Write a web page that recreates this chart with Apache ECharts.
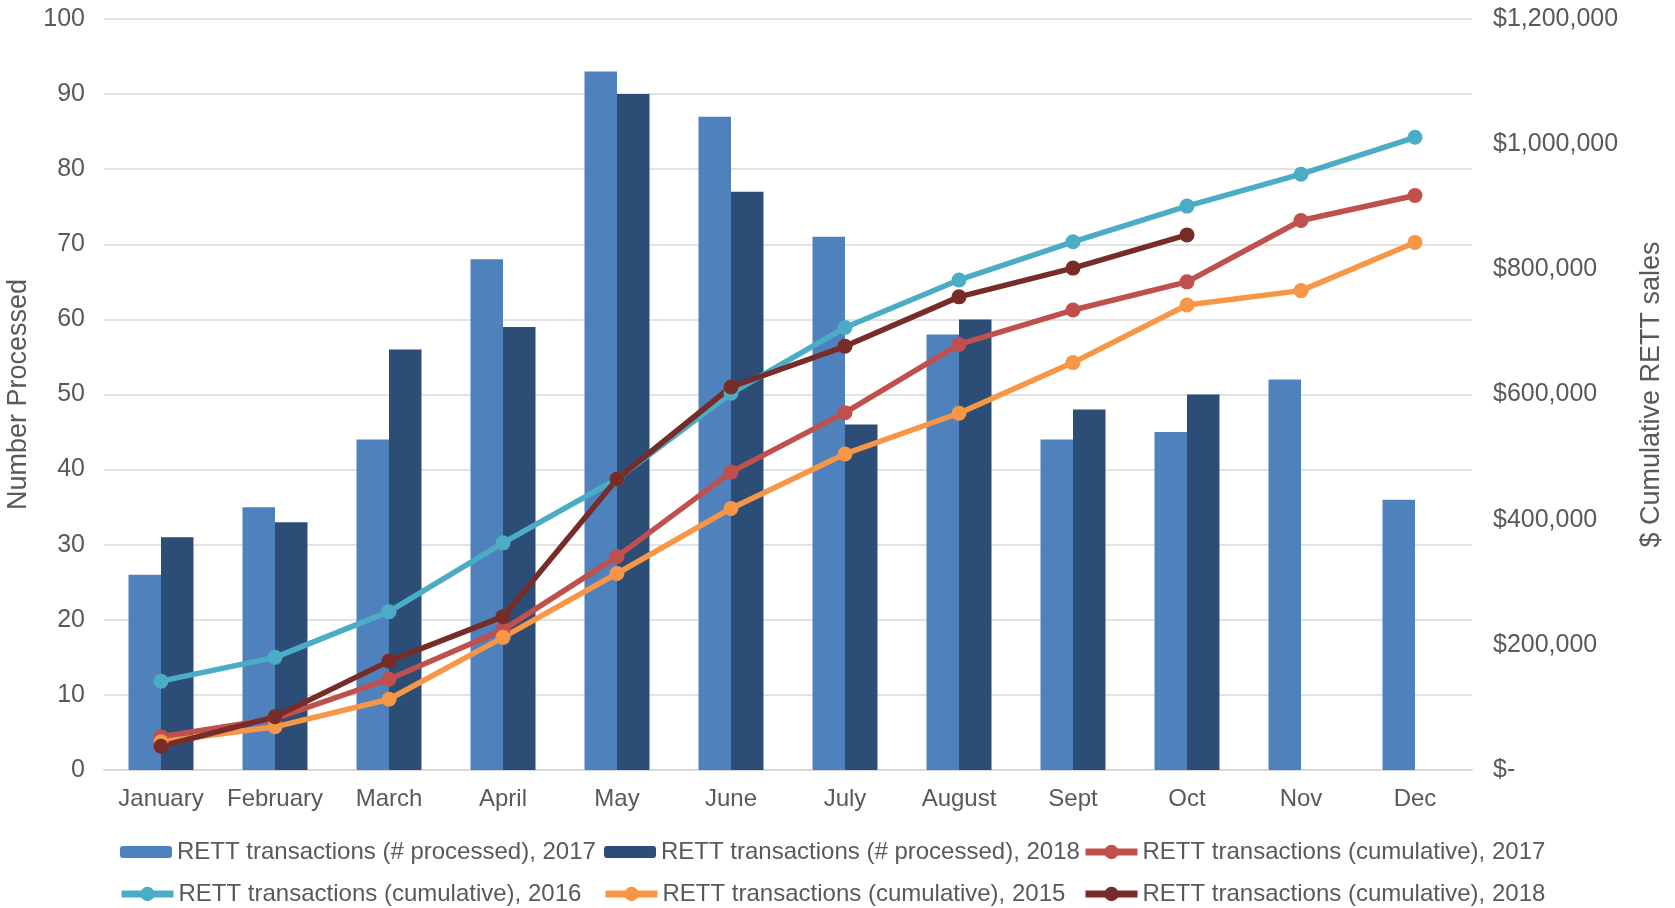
<!DOCTYPE html>
<html>
<head>
<meta charset="utf-8">
<title>RETT transactions</title>
<script src="https://cdn.jsdelivr.net/npm/echarts@6/dist/echarts.min.js"></script>
<style>
  html, body { margin: 0; padding: 0; background: #ffffff; }
  #chart { width: 1675px; height: 908px; }
</style>
</head>
<body>
<div id="chart"></div>
<script>
// Month categories on the shared x axis
const months = ['January', 'February', 'March', 'April', 'May', 'June', 'July', 'August', 'Sept', 'Oct', 'Nov', 'Dec'];

// Number of RETT transactions processed per month (left axis)
const processed2017 = [26, 35, 44, 68, 93, 87, 71, 58, 44, 45, 52, 36];
const processed2018 = [31, 33, 56, 59, 90, 77, 46, 60, 48, 50, null, null];

// Cumulative RETT sales in dollars (right axis)
const cumulative2017 = [53000, 82000, 145000, 224000, 341000, 476000, 571000, 680000, 735000, 780000, 878000, 918000];
const cumulative2016 = [142000, 180000, 253000, 363000, 465000, 602000, 707000, 783000, 844000, 901000, 952000, 1011000];
const cumulative2015 = [45000, 69000, 113000, 212000, 314000, 418000, 505000, 570000, 651000, 743000, 766000, 843000];
const cumulative2018 = [38000, 85000, 174000, 245000, 465000, 612000, 677000, 756000, 802000, 855000, null, null];

// Series names, in legend order
const names = [
  'RETT transactions (# processed), 2017',
  'RETT transactions (# processed), 2018',
  'RETT transactions (cumulative), 2017',
  'RETT transactions (cumulative), 2016',
  'RETT transactions (cumulative), 2015',
  'RETT transactions (cumulative), 2018'
];

const FONT = '"Liberation Sans", Arial, sans-serif';
const TEXT = '#595959';
const GRID = '#d9d9d9';

function dollars(v) {
  if (v === 0) return '$-';
  return '$' + String(Math.round(v)).replace(/\B(?=(\d{3})+(?!\d))/g, ',');
}

function lineSeries(name, data, color) {
  return {
    name: name,
    type: 'line',
    yAxisIndex: 1,
    data: data,
    symbol: 'circle',
    symbolSize: 15,
    connectNulls: false,
    lineStyle: { color: color, width: 5.5 },
    itemStyle: { color: color, borderWidth: 0 },
    emphasis: { disabled: true },
    animation: false
  };
}

// One legend block per entry so the two rows line up in columns
const legendSlots = [
  { name: names[0], left: 120, top: 840, bar: true },
  { name: names[1], left: 604, top: 840, bar: true },
  { name: names[2], left: 1082, top: 840, bar: false },
  { name: names[3], left: 118, top: 882, bar: false },
  { name: names[4], left: 602, top: 882, bar: false },
  { name: names[5], left: 1082, top: 882, bar: false }
];

const legends = legendSlots.map((s) => ({
  data: [s.name],
  left: s.left,
  top: s.top,
  padding: 0,
  itemGap: 0,
  itemWidth: 52,
  itemHeight: s.bar ? 12 : 18,
  selectedMode: false,
  lineStyle: { width: 7 },
  textStyle: { color: TEXT, fontSize: 24, fontFamily: FONT }
}));

const chart = echarts.init(document.getElementById('chart'), null, { renderer: 'canvas' });

chart.setOption({
  backgroundColor: '#ffffff',
  animation: false,
  textStyle: { fontFamily: FONT },
  legend: legends,
  grid: { left: 104, right: 203, top: 19, bottom: 138, containLabel: false, outerBoundsMode: 'none' },
  xAxis: {
    type: 'category',
    data: months,
    axisLine: { show: true, lineStyle: { color: GRID, width: 2 } },
    axisTick: { show: false },
    axisLabel: { color: TEXT, fontSize: 24, fontFamily: FONT, margin: 17, interval: 0 }
  },
  yAxis: [
    {
      type: 'value',
      min: 0,
      max: 100,
      interval: 10,
      name: 'Number Processed',
      nameLocation: 'middle',
      nameGap: 63,
      nameRotate: 90,
      nameTextStyle: { color: TEXT, fontSize: 27, fontFamily: FONT },
      axisLine: { show: false },
      axisTick: { show: false },
      axisLabel: { color: TEXT, fontSize: 25, fontFamily: FONT, margin: 19 },
      splitLine: { show: true, lineStyle: { color: GRID, width: 1.5 } }
    },
    {
      type: 'value',
      min: 0,
      max: 1200000,
      interval: 200000,
      position: 'right',
      name: '$ Cumulative RETT sales',
      nameLocation: 'middle',
      nameGap: 166,
      nameRotate: 90,
      nameTextStyle: { color: TEXT, fontSize: 27, fontFamily: FONT },
      axisLine: { show: false },
      axisTick: { show: false },
      axisLabel: { color: TEXT, fontSize: 25, fontFamily: FONT, margin: 21, formatter: dollars },
      splitLine: { show: false }
    }
  ],
  series: [
    {
      name: names[0],
      type: 'bar',
      data: processed2017,
      barGap: '0%',
      barCategoryGap: '43%',
      itemStyle: { color: '#4f81bd' },
      emphasis: { disabled: true }
    },
    {
      name: names[1],
      type: 'bar',
      data: processed2018,
      barGap: '0%',
      barCategoryGap: '43%',
      itemStyle: { color: '#2c4d75' },
      emphasis: { disabled: true }
    },
    lineSeries(names[2], cumulative2017, '#c0504d'),
    lineSeries(names[3], cumulative2016, '#4bacc6'),
    lineSeries(names[4], cumulative2015, '#f79646'),
    lineSeries(names[5], cumulative2018, '#772c2a')
  ]
});
</script>
</body>
</html>
